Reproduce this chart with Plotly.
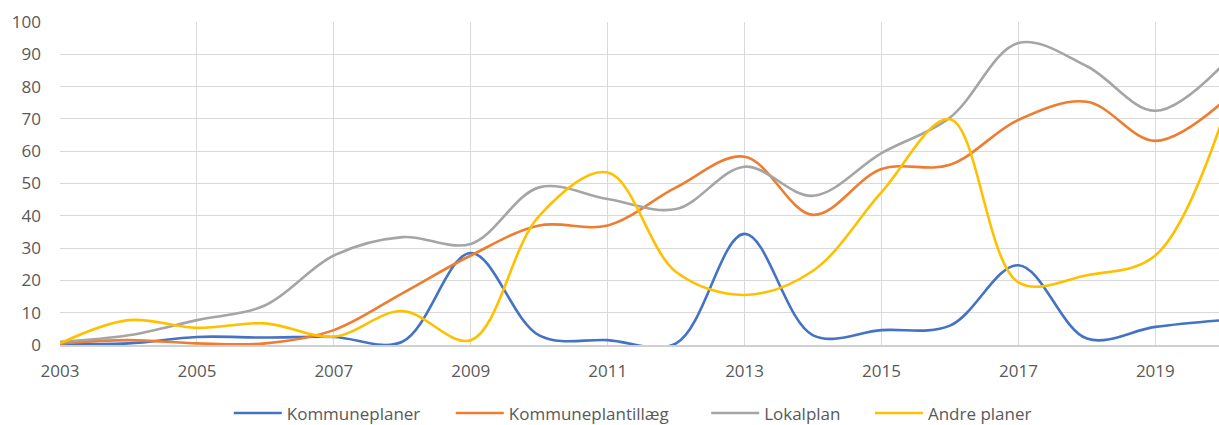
import plotly.graph_objects as go

years = list(range(2003, 2021))
kommuneplaner = [0.5, 0.5, 2.5, 2.3, 2.5, 1, 28.5, 3, 1.5, 0.5, 34.4, 3, 4.6, 6, 24.7, 2, 5.6, 7.7]
kommuneplantillaeg = [0.5, 1.5, 0.5, 0.5, 4.6, 16, 27.7, 37, 37, 48.8, 58.3, 40.3, 54.5, 55.8, 69.7, 75.3, 63.2, 75.5]
lokalplan = [1, 3, 7.7, 12.3, 27.7, 33.4, 31.3, 48.8, 45.2, 42.1, 55.2, 46.2, 59.4, 70.4, 93.5, 86.3, 72.5, 87]
andre_planer = [0.5, 7.7, 5.3, 6.7, 2.6, 10.5, 1.5, 40, 53.4, 22.6, 15.5, 23, 47.3, 69.9, 19.4, 21.6, 27.7, 71]

series = [
    ("Kommuneplaner", kommuneplaner, "#4472C4"),
    ("Kommuneplantillæg", kommuneplantillaeg, "#ED7D31"),
    ("Lokalplan", lokalplan, "#A5A5A5"),
    ("Andre planer", andre_planer, "#FFC000"),
]
legend_ids = ["legend", "legend2", "legend3", "legend4"]
legend_x = [0.1456, 0.3372, 0.5575, 0.6988]

fig = go.Figure()
for (name, vals, color), lid in zip(series, legend_ids):
    fig.add_trace(go.Scatter(
        x=years, y=vals, name=name, mode="lines", legend=lid,
        line=dict(color=color, width=2.6, shape="spline", smoothing=1.0),
    ))

legend_common = dict(orientation="h", xanchor="left", y=-0.156, yanchor="top",
                     font=dict(size=17, color="#595959"), itemwidth=48,
                     bgcolor="rgba(0,0,0,0)")
legends = {}
for lid, lx in zip(legend_ids, legend_x):
    legends[lid] = dict(legend_common, x=lx)

fig.update_layout(
    width=1219, height=440,
    margin=dict(l=60, r=0, t=22, b=95, autoexpand=False),
    paper_bgcolor="white", plot_bgcolor="white",
    font=dict(family="Open Sans, sans-serif", size=17, color="#595959"),
    showlegend=True,
    xaxis=dict(range=[2003, 2019.93], tickmode="linear", tick0=2003, dtick=2,
               showgrid=True, gridcolor="#D9D9D9", gridwidth=1, automargin=False,
               showline=True, linecolor="#D0D0D0", linewidth=1.5, zeroline=False,
               ticks="", ticklabelstandoff=10),
    yaxis=dict(range=[0, 100], tickmode="linear", tick0=0, dtick=10,
               showgrid=True, gridcolor="#D9D9D9", gridwidth=1, automargin=False,
               showline=False, zeroline=False, ticks="", ticklabelstandoff=18),
    **legends,
)

fig.write_html(
    "out.html",
    config={"displayModeBar": False},
    post_script="document.body.style.margin='0';document.body.style.overflow='hidden';",
)
